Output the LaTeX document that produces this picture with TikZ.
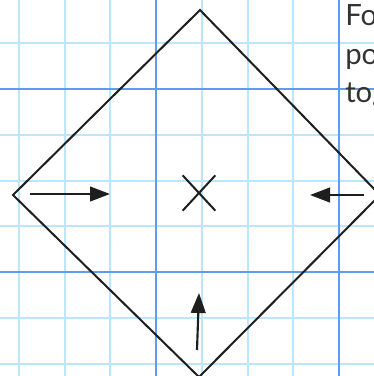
\documentclass[tikz,border=0pt]{standalone}
\usepackage{fontspec}
\setsansfont{Lato}
\usetikzlibrary{arrows.meta, shapes.misc}
\definecolor{rejilla}{RGB}{188,230,252}
\definecolor{rejillafuerte}{RGB}{95,155,240}
\definecolor{trazo}{RGB}{30,30,30}
\tikzset{
  linea fina/.style={draw=rejilla, line width=1.5pt},
  linea gruesa/.style={draw=rejillafuerte, line width=2.2pt},
  borde/.style={draw=trazo, line width=1.5pt, line join=miter},
  flecha/.style={draw=trazo, line width=1.6pt, -{Triangle[length=15pt, width=11pt]}},
  texto/.style={anchor=base west, inner sep=0pt, text=black!80,
    font=\sffamily\fontsize{22}{26}\selectfont},
}

\begin{document}
\begin{tikzpicture}[x=0.75pt, y=-0.75pt]
  \useasboundingbox (0,0) rectangle (374,376);
  \clip (0,0) rectangle (374,376);
  \fill[white] (0,0) rectangle (374,376);

  % Rejilla del papel
  \foreach \k in {-2,...,6} {
    \draw[linea fina] (0,{89+45.75*\k}) -- (374,{89+45.75*\k});
  }
  \foreach \k in {-3,...,5} {
    \draw[linea fina] ({156+45.75*\k},0) -- ({156+45.75*\k},376);
  }
  \foreach \k in {0,4} {
    \draw[linea gruesa] (0,{89+45.75*\k}) -- (374,{89+45.75*\k});
    \draw[linea gruesa] ({156+45.75*\k},0) -- ({156+45.75*\k},376);
  }

  % Vértices del cuadrado
  \coordinate (arriba) at (200,10);
  \coordinate (izq)    at (13,195);
  \coordinate (abajo)  at (199,377);
  \coordinate (der)    at (380,195);
  \draw[borde] (arriba) -- (der) -- (abajo) -- (izq) -- cycle;

  % Centro
  \node[cross out, draw=trazo, line width=1.5pt, inner sep=0pt,
        minimum width=23pt, minimum height=25pt] (centro) at (199,193) {};

  % Flechas hacia el centro
  \coordinate (ini1) at (30,194);
  \coordinate (fin1) at (110,194);
  \coordinate (ini2) at (364,195);
  \coordinate (fin2) at (310,195);
  \coordinate (ini3) at (197,350);
  \coordinate (fin3) at (199,293);
  \draw[flecha] (ini1) -- (fin1);
  \draw[flecha] (ini2) -- (fin2);
  \draw[flecha] (ini3) -- (fin3);

  % Texto cortado al margen
  \node[texto] (linea1) at (345,25)  {Fo};
  \node[texto] (linea2) at (345,64)  {po};
  \node[texto] (linea3) at (345,102) {tog};
\end{tikzpicture}
\end{document}
